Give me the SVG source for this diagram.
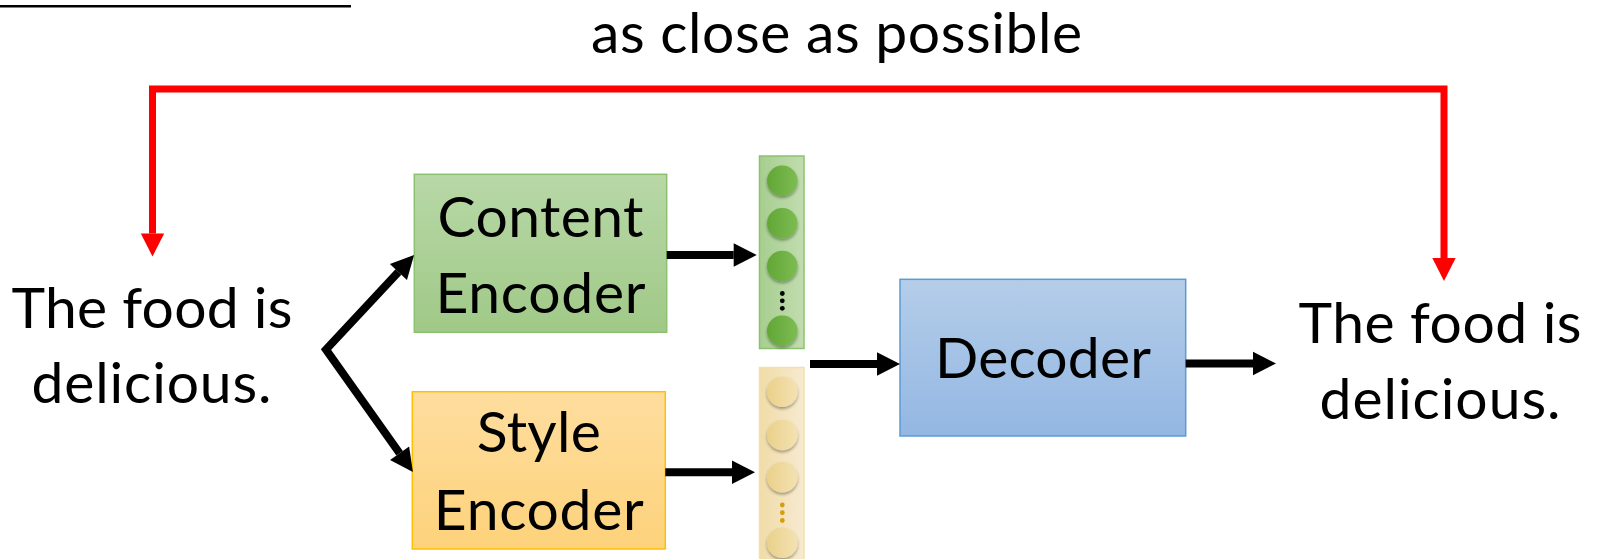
<svg xmlns="http://www.w3.org/2000/svg" width="1602" height="559" viewBox="0 0 1602 559">
  <defs>
    <style>
      .t { font-family: Lato, "Liberation Sans", sans-serif; font-size: 57px; fill: #000; text-anchor: middle; }
      .blk { fill: none; stroke: #000; stroke-width: 8; stroke-linejoin: miter; }
      .red { fill: none; stroke: #ff0000; stroke-width: 7; stroke-linejoin: miter; }
      .dot { fill: #000; }
      .sdot { fill: #d99c10; }
    </style>
    <marker id="headBlack" markerUnits="userSpaceOnUse" markerWidth="24" markerHeight="24" refX="0" refY="11.7" orient="auto-start-reverse" overflow="visible">
      <path d="M0,0 L23,11.7 L0,23.4 Z" fill="#000"/>
    </marker>
    <marker id="headRed" markerUnits="userSpaceOnUse" markerWidth="24" markerHeight="24" refX="0" refY="11.7" orient="auto-start-reverse" overflow="visible">
      <path d="M0,0 L23,11.7 L0,23.4 Z" fill="#ff0000"/>
    </marker>
    <linearGradient id="gContent" x1="0" y1="0" x2="0" y2="1">
      <stop offset="0" stop-color="#b8d8a7"/>
      <stop offset="1" stop-color="#a0c987"/>
    </linearGradient>
    <linearGradient id="gStyle" x1="0" y1="0" x2="0" y2="1">
      <stop offset="0" stop-color="#fedd9e"/>
      <stop offset="1" stop-color="#fdd27b"/>
    </linearGradient>
    <linearGradient id="gDecoder" x1="0" y1="0" x2="0" y2="1">
      <stop offset="0" stop-color="#b4cde9"/>
      <stop offset="1" stop-color="#93b7e3"/>
    </linearGradient>
    <linearGradient id="gGreenCol" x1="0" y1="0" x2="1" y2="0">
      <stop offset="0" stop-color="#a6ce8f"/>
      <stop offset="1" stop-color="#c2ddb0"/>
    </linearGradient>
    <linearGradient id="gBeigeCol" x1="0" y1="0" x2="1" y2="0">
      <stop offset="0" stop-color="#f0dca8"/>
      <stop offset="1" stop-color="#f7ead0"/>
    </linearGradient>
    <linearGradient id="gGreenDot" x1="0" y1="0" x2="1" y2="0">
      <stop offset="0" stop-color="#62a636"/>
      <stop offset="1" stop-color="#7dbc52"/>
    </linearGradient>
    <linearGradient id="gBeigeDot" x1="0" y1="0" x2="1" y2="0">
      <stop offset="0" stop-color="#ead08a"/>
      <stop offset="1" stop-color="#f3e2b2"/>
    </linearGradient>
    <filter id="shadow" x="-30%" y="-30%" width="160%" height="170%">
      <feDropShadow dx="0" dy="2" stdDeviation="1.4" flood-color="#000" flood-opacity="0.35"/>
    </filter>
    <g id="greenBall"><circle r="15.3" fill="url(#gGreenDot)" filter="url(#shadow)"/></g>
    <g id="beigeBall"><circle r="15.3" fill="url(#gBeigeDot)" filter="url(#shadow)"/></g>
  </defs>

  <rect width="1602" height="559" fill="#fff"/>

  <!-- heading rule, cut by the top edge -->
  <line x1="0" y1="6.3" x2="351" y2="6.3" stroke="#000" stroke-width="2.5"/>

  <g id="caption">
    <text class="t" x="836.5" y="53" textLength="491">as close as possible</text>
  </g>

  <g id="input-sentence">
    <text class="t" x="152" y="327.5" textLength="281">The food is</text>
    <text class="t" x="151.5" y="403" textLength="240">delicious.</text>
  </g>

  <g id="content-encoder">
    <rect x="414.3" y="174.3" width="252.4" height="158" fill="url(#gContent)" stroke="#8cc26f" stroke-width="1.5"/>
    <text class="t" x="540.5" y="236.7" textLength="206">Content</text>
    <text class="t" x="540.5" y="313.3" textLength="210">Encoder</text>
  </g>

  <g id="style-encoder">
    <rect x="412.3" y="391.7" width="253" height="157.3" fill="url(#gStyle)" stroke="#ffc000" stroke-width="1.5"/>
    <text class="t" x="538.8" y="452" textLength="124">Style</text>
    <text class="t" x="538.8" y="530" textLength="210">Encoder</text>
  </g>

  <g id="content-vector">
    <rect x="759.5" y="156" width="44.5" height="192.5" fill="url(#gGreenCol)" stroke="#8cc26f" stroke-width="1.5"/>
    <use href="#greenBall" x="782.3" y="180.7"/>
    <use href="#greenBall" x="782.3" y="223.3"/>
    <use href="#greenBall" x="782.3" y="266"/>
    <circle class="dot" cx="782.3" cy="293.5" r="2.4"/>
    <circle class="dot" cx="782.3" cy="300.8" r="2.4"/>
    <circle class="dot" cx="782.3" cy="308.3" r="2.4"/>
    <use href="#greenBall" x="782.3" y="330.7"/>
  </g>

  <g id="style-vector">
    <rect x="759.5" y="367.5" width="44.5" height="200" fill="url(#gBeigeCol)" stroke="#f2dfae" stroke-width="1.5"/>
    <use href="#beigeBall" x="782.3" y="391.7"/>
    <use href="#beigeBall" x="782.3" y="435"/>
    <use href="#beigeBall" x="782.3" y="477.3"/>
    <circle class="sdot" cx="782.3" cy="505" r="2.4"/>
    <circle class="sdot" cx="782.3" cy="512.7" r="2.4"/>
    <circle class="sdot" cx="782.3" cy="520.5" r="2.4"/>
    <use href="#beigeBall" x="782.3" y="542.7"/>
  </g>

  <g id="decoder">
    <rect x="900" y="279.3" width="285.7" height="156.7" fill="url(#gDecoder)" stroke="#5b9bd5" stroke-width="1.5"/>
    <text class="t" x="1043" y="378.3" textLength="216">Decoder</text>
  </g>

  <g id="output-sentence">
    <text class="t" x="1440" y="343.3" textLength="283">The food is</text>
    <text class="t" x="1440" y="419.3" textLength="241">delicious.</text>
  </g>

  <g id="connectors">
    <!-- reconstruction loss loop -->
    <path class="red" d="M152.5,233.5 V89 H1444 V258" marker-start="url(#headRed)" marker-end="url(#headRed)"/>
    <!-- split into the two encoders -->
    <path class="blk" d="M398.4,271.9 L326,349.5 L399.6,453.3" marker-start="url(#headBlack)" marker-end="url(#headBlack)"/>
    <!-- encoders to their vectors -->
    <path class="blk" d="M666.7,255 H733.7" marker-end="url(#headBlack)"/>
    <path class="blk" d="M665.3,472.3 H732" marker-end="url(#headBlack)"/>
    <!-- vectors to decoder -->
    <path class="blk" d="M810,364 H877" marker-end="url(#headBlack)"/>
    <!-- decoder to output -->
    <path class="blk" d="M1185.7,363.5 H1253" marker-end="url(#headBlack)"/>
  </g>
</svg>
